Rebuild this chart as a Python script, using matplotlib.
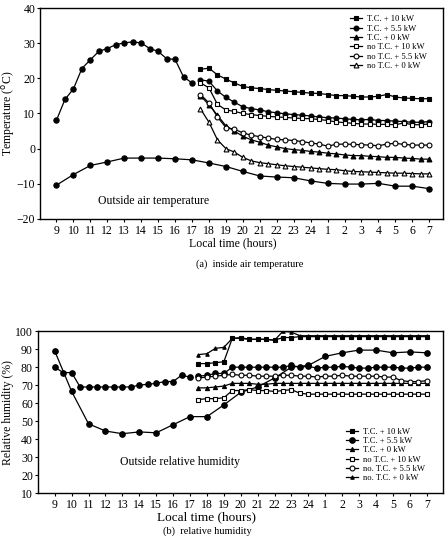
import numpy as np
import matplotlib.pyplot as plt
from matplotlib.lines import Line2D

plt.rcParams['font.family'] = ['Liberation Serif', 'DejaVu Serif']

# hours counted from 9 am; values > 24 are the next morning
day_hours = np.arange(9, 17.01, 0.5)
night_hours = np.arange(17.5, 31.01, 0.5)
out_hours = np.arange(9, 32, 1)
tick_hours = np.arange(9, 32)
tick_labels = [str(h if h <= 24 else h - 24) for h in tick_hours]

# (a) temperature
t_day = [8.1, 14.0, 17.0, 22.8, 25.3, 27.7, 28.5, 29.6, 30.1, 30.4, 30.1, 28.5,
         27.7, 25.6, 25.4, 20.4, 18.7]
t_outside = [-10.4, -7.4, -4.8, -3.8, -2.7, -2.7, -2.7, -2.9, -3.2, -4.1, -5.1, -6.5,
             -7.8, -8.1, -8.3, -9.2, -9.9, -10.1, -10.1, -9.9, -10.7, -10.7, -11.4]
t_tc10 = [22.6, 22.9, 21.0, 19.8, 18.7, 17.7, 17.3, 17.1, 16.8, 16.6, 16.4, 16.2, 16.0, 15.8,
          15.7, 15.4, 15.1, 15.1, 14.9, 14.7, 14.7, 14.9, 15.4, 14.7, 14.4, 14.3, 14.2, 14.2]
t_tc55 = [19.6, 19.2, 16.4, 14.6, 13.2, 11.9, 11.4, 11.0, 10.5, 10.2, 9.9, 9.7, 9.5, 9.3,
          9.0, 8.8, 8.7, 8.5, 8.3, 8.2, 8.3, 8.0, 8.0, 7.8, 7.7, 7.5, 7.5, 7.7]
t_tc0 = [15.0, 12.5, 9.5, 6.5, 5.0, 3.5, 2.5, 1.8, 1.0, 0.5, 0.0, -0.3, -0.5, -0.8,
         -1.0, -1.3, -1.5, -1.8, -2.0, -2.0, -2.2, -2.3, -2.5, -2.5, -2.7, -2.8, -3.0, -3.0]
t_no10 = [18.7, 17.3, 12.6, 11.0, 10.6, 10.0, 9.7, 9.4, 9.2, 9.0, 8.9, 8.7, 8.6, 8.5,
          8.3, 8.0, 7.6, 7.4, 7.2, 7.0, 7.0, 6.9, 6.9, 6.8, 7.3, 6.8, 6.8, 7.0]
t_no55 = [15.4, 13.0, 9.0, 6.0, 5.5, 4.5, 3.8, 3.4, 3.0, 2.6, 2.5, 2.3, 2.0, 1.6,
          1.3, 0.7, 1.2, 1.3, 1.2, 1.1, 1.0, 0.8, 1.3, 1.5, 1.2, 1.0, 1.0, 1.0]
t_no0 = [11.3, 7.5, 2.5, 0.0, -1.0, -2.5, -3.5, -4.0, -4.3, -4.6, -4.9, -5.1, -5.3, -5.5,
         -5.7, -5.9, -6.0, -6.3, -6.5, -6.6, -6.7, -6.8, -6.9, -7.0, -7.0, -7.1, -7.2, -7.2]

# (b) relative humidity
rh_day = [80, 77, 77, 69, 69, 69, 69, 69, 69, 69, 70, 70.5, 71, 72, 72, 75.5, 74.5]
rh_outside = [89, 66.5, 48.5, 44.5, 43, 44, 43.5, 48, 52.5, 52.5, 59, 66, 69, 74, 80, 81,
              86, 88, 89.5, 89.5, 88, 88.5, 88]
rh_tc10 = [82, 82, 82.5, 83, 96, 96.5, 95.5, 95.5, 95.5, 95, 96.5, 96.5, 97, 97,
           97, 97, 97, 97, 97, 97, 97, 97, 97, 97, 97, 97, 97, 97]
rh_tc55 = [75, 75.5, 76.5, 76.5, 80, 80, 80, 80, 80, 80, 80, 81, 80, 80.5,
           79.5, 80, 80, 80.5, 80, 79.5, 79.5, 80, 80, 80, 79.5, 79.5, 80, 80]
rh_tc0 = [68.5, 68.5, 69, 69.5, 71, 71, 71, 70.5, 70.5, 71, 71, 71, 71, 71,
          71, 71, 71, 71, 71, 71, 71, 71, 71, 71, 71, 71, 71, 71]
rh_no10 = [62, 62.5, 62.5, 63, 67, 67, 67.5, 67, 67, 66.5, 67, 67.5, 65.5, 65,
           65, 65, 65, 65, 65, 65, 65, 65, 65, 65, 65, 65, 65, 65]
rh_no55 = [74, 74.5, 75, 75.5, 76, 75.5, 75.5, 75, 75, 75, 75.5, 75.5, 75, 75,
           74.5, 75, 75, 75.5, 75, 75, 75, 75, 74.5, 74.5, 72.5, 72, 72, 72.5]
rh_no0 = [87, 87.5, 90.5, 91, 96, 96, 95.5, 95.5, 95.5, 95, 100, 99.5, 97.5, 97.5,
          97.5, 97.5, 97.5, 97.5, 97.5, 97.5, 97.5, 97.5, 97.5, 97.5, 97.5, 97.5, 97.5, 97.5]

labels_a = ['T.C. + 10 kW', 'T.C. + 5.5 kW', 'T.C. + 0 kW',
            'no T.C. + 10 kW', 'no T.C. + 5.5 kW', 'no T.C. + 0 kW']
labels_b = ['T.C. + 10 kW', 'T.C. + 5.5 kW', 'T.C. + 0 kW',
            'no T.C. + 10 kW', 'no. T.C. + 5.5 kW', 'no. T.C. + 0 kW']

styles_a = [dict(marker='s', mfc='k', ms=3.5), dict(marker='o', mfc='k', ms=3.5),
            dict(marker='^', mfc='k', ms=3.5), dict(marker='s', mfc='white', ms=3.5),
            dict(marker='o', mfc='white', ms=3.5), dict(marker='^', mfc='white', ms=3.5)]
styles_b = [dict(marker='s', mfc='k', ms=3.5), dict(marker='o', mfc='k', ms=4),
            dict(marker='^', mfc='k', ms=3), dict(marker='s', mfc='white', ms=3),
            dict(marker='o', mfc='white', ms=3.5), dict(marker='^', mfc='k', ms=2.5)]

fig = plt.figure(figsize=(4.45, 5.43), dpi=100)
ax1 = fig.add_axes([0.090, 0.597, 0.905, 0.388])
ax2 = fig.add_axes([0.085, 0.092, 0.910, 0.298])

lw = 0.9
kw = dict(color='k', lw=lw, mec='k', mew=0.8)

# panel (a)
ax1.plot(day_hours, t_day, marker='o', ms=3.8, mfc='k', **kw)
ax1.plot(out_hours, t_outside, marker='o', ms=3.8, mfc='k', **kw)
for ys, st in zip([t_tc10, t_tc55, t_tc0, t_no10, t_no55, t_no0], styles_a):
    ax1.plot(night_hours, ys, **st, **kw)
ax1.set_xlim(8.03, 31.8)
ax1.set_ylim(-20, 40)
ax1.set_yticks(range(-20, 41, 10))
ax1.set_ylabel('Temperature ($^{\\rm o}$C)', fontsize=8.5)
ax1.yaxis.set_label_coords(-0.058, 0.5)
ax1.text(11.45, -14.8, 'Outside air temperature', fontsize=8.5, va='center')
h_a = [Line2D([], [], **st, **kw) for st in styles_a]
ax1.legend(h_a, labels_a, loc='upper right', bbox_to_anchor=(0.975, 0.995),
           frameon=False, fontsize=6.2, handlelength=1.4, handletextpad=0.5,
           labelspacing=0.15, borderpad=0.2)

# panel (b)
ax2.plot(day_hours, rh_day, marker='o', ms=4, mfc='k', **kw)
ax2.plot(out_hours, rh_outside, marker='o', ms=4, mfc='k', **kw)
for ys, st in zip([rh_tc10, rh_tc55, rh_tc0, rh_no10, rh_no55, rh_no0], styles_b):
    ax2.plot(night_hours, ys, **st, **kw)
ax2.set_xlim(8.0, 31.95)
ax2.set_ylim(10, 100)
ax2.set_yticks(range(10, 101, 10))
ax2.set_ylabel('Relative humidity (%)', fontsize=8.5)
ax2.yaxis.set_label_coords(-0.058, 0.5)
ax2.text(12.85, 27.5, 'Outside relative humidity', fontsize=8.5, va='center')
h_b = [Line2D([], [], **st, **kw) for st in styles_b]
ax2.legend(h_b, labels_b, loc='lower right', bbox_to_anchor=(0.97, 0.03),
           frameon=False, fontsize=6.2, handlelength=1.4, handletextpad=0.5,
           labelspacing=0.15, borderpad=0.2)

for ax in (ax1, ax2):
    ax.set_xticks(tick_hours)
    ax.set_xticklabels(tick_labels)
    ax.tick_params(direction='out', length=2.5, width=0.8, labelsize=8.5, pad=2)
    ax.tick_params(axis='y', pad=1)
    for s in ax.spines.values():
        s.set_linewidth(1.0)

fig.text(0.523, 1 - 243 / 543, 'Local time (hours)', fontsize=8.5, ha='center', va='center')
fig.text(0.562, 1 - 264 / 543, '(a)  inside air temperature', fontsize=7.5, ha='center', va='center')
fig.text(0.465, 1 - 517 / 543, 'Local time (hours)', fontsize=9.5, ha='center', va='center')
fig.text(0.465, 1 - 531 / 543, '(b)  relative humidity', fontsize=7.5, ha='center', va='center')

fig.savefig('out.png', dpi=100)
